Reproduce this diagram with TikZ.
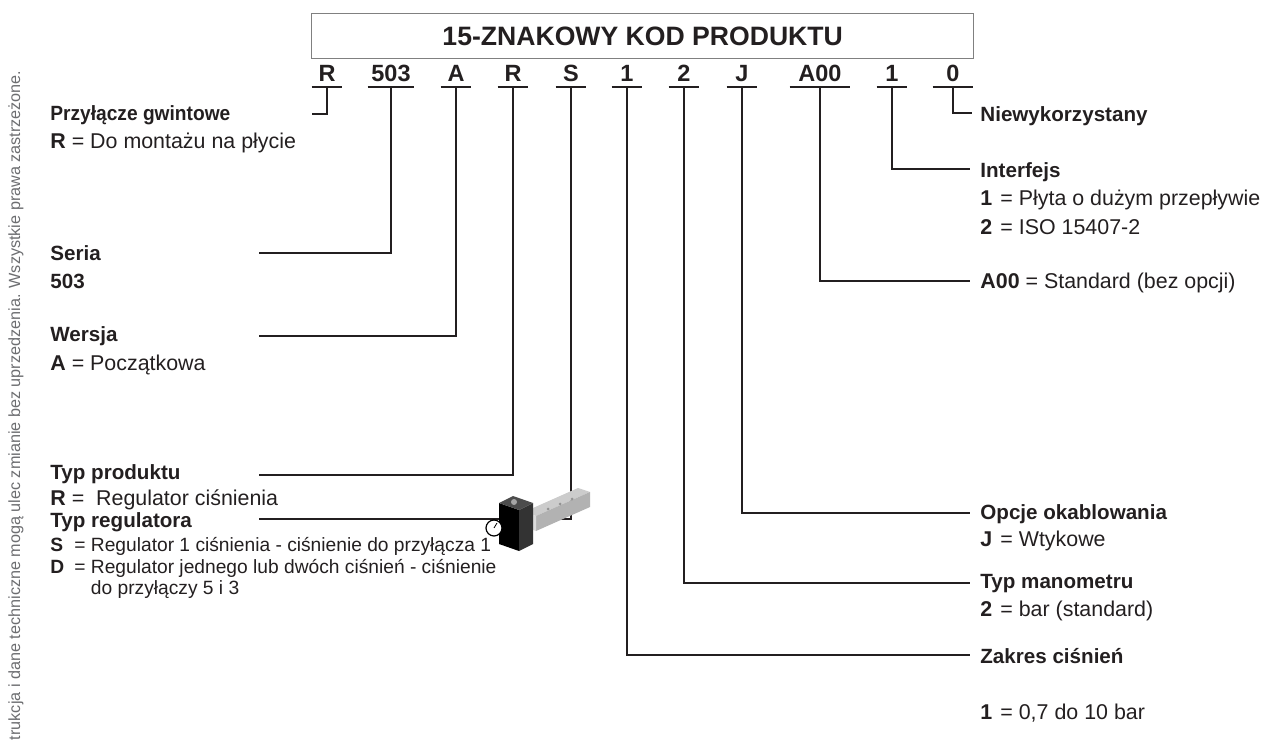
\documentclass[tikz,border=0pt]{standalone}
\usepackage{fontspec}
\setmainfont{Liberation Sans}
\usetikzlibrary{positioning}

\definecolor{ink}{HTML}{231F20}
\definecolor{frame}{HTML}{808080}
\definecolor{note}{HTML}{6D6E71}

\tikzset{
  code/.style={font=\fontsize{11.75}{14}\selectfont\bfseries, inner xsep=0pt, inner ysep=2.5pt,
    minimum width=15pt, anchor=south, text=ink, text depth=0pt},
  uline/.style={ink, line width=1.3pt},
  conn/.style={ink, line width=1pt},
  title/.style={font=\fontsize{10.3}{12}\selectfont\bfseries, anchor=west, inner sep=0pt, text=ink},
  desc/.style={font=\fontsize{10.7}{12}\selectfont, anchor=west, inner sep=0pt, text=ink},
  descs/.style={desc, font=\fontsize{9.6}{12}\selectfont},
}

\begin{document}
\begin{tikzpicture}[x=0.5pt, y=-0.5pt]
\useasboundingbox (0,0) rectangle (1275,743);

% naglowek
\node[draw=frame, line width=0.7pt, minimum width=331pt, minimum height=22.5pt, anchor=north west,
  inner sep=0pt, text=ink, font=\fontsize{13.3}{15}\selectfont\bfseries] (head) at (311,13) {15-ZNAKOWY KOD PRODUKTU};

% znaki kodu
\node[code] (cR) at (327,87) {R};
\node[code, minimum width=23pt] (c503) at (391,87) {503};
\node[code] (cA) at (456,87) {A};
\node[code] (cR2) at (513,87) {R};
\node[code] (cS) at (571,87) {S};
\node[code] (c1) at (627,87) {1};
\node[code] (c2) at (684,87) {2};
\node[code] (cJ) at (742,87) {J};
\node[code, minimum width=30pt] (cA00) at (820,87) {A00};
\node[code] (cI) at (892,87) {1};
\node[code, minimum width=20pt] (c0) at (953,87) {0};
\foreach \n in {cR,c503,cA,cR2,cS,c1,c2,cJ,cA00,cI,c0}
  \draw[uline] (\n.south west) -- (\n.south east);

% opisy po lewej
\node[title] (tPrz) at (50,115) {\scalebox{0.93}[1]{Przyłącze gwintowe}};
\node[desc] (dPrz) at (50,143) {\textbf{R} = Do montażu na płycie};
\node[title] (tSer) at (50,253) {Seria};
\node[title] (dSer) at (50,281) {503};
\node[title] (tWer) at (50,336) {Wersja};
\node[desc] (dWer) at (50,365) {\textbf{A} = Początkowa};
\node[title] (tTyp) at (50,474) {Typ produktu};
\node[desc] (dTyp) at (50,500) {\textbf{R} =\ \ Regulator ciśnienia};
\node[title] (tReg) at (50,522) {Typ regulatora};
\node[descs] (dRegS) at (50,546) {\makebox[12pt][l]{\textbf{S}}= Regulator 1 ciśnienia - ciśnienie do przyłącza 1};
\node[descs] (dRegD) at (50,568) {\makebox[12pt][l]{\textbf{D}}= Regulator jednego lub dwóch ciśnień - ciśnienie};
\node[descs] (dRegD2) at (50,590) {\makebox[12pt][l]{}\phantom{=\ }do przyłączy 5 i 3};

% opisy po prawej
\node[title] (tNie) at (980,116) {Niewykorzystany};
\node[title] (tInt) at (980,172) {Interfejs};
\node[desc] (dInt1) at (980,200) {\makebox[10pt][l]{\textbf{1}}= Płyta o dużym przepływie};
\node[desc] (dInt2) at (980,227) {\makebox[10pt][l]{\textbf{2}}= ISO 15407-2};
\node[desc] (dOpc) at (980,283) {\textbf{A00} = Standard (bez opcji)};
\node[title] (tOka) at (980,514) {Opcje okablowania};
\node[desc] (dOka) at (980,541) {\makebox[10pt][l]{\textbf{J}}= Wtykowe};
\node[title] (tMan) at (980,584) {Typ manometru};
\node[desc] (dMan) at (980,611) {\makebox[10pt][l]{\textbf{2}}= bar (standard)};
\node[title] (tZak) at (980,656) {Zakres ciśnień};
\node[desc] (dZak) at (980,713) {\makebox[10pt][l]{\textbf{1}}= 0,7 do 10 bar};

% konce linii
\coordinate (kPrz) at (312,114);
\coordinate (kSer) at (259,253);
\coordinate (kWer) at (259,336);
\coordinate (kTyp) at (259,475);
\coordinate (kReg) at (259,519);
\coordinate (kZak) at (970,655);
\coordinate (kMan) at (970,583);
\coordinate (kOka) at (970,513);
\coordinate (kOpc) at (970,281);
\coordinate (kInt) at (970,169);
\coordinate (kNie) at (972,113);

\draw[conn] (cR.south) |- (kPrz);
\draw[conn] (c503.south) |- (kSer);
\draw[conn] (cA.south) |- (kWer);
\draw[conn] (cR2.south) |- (kTyp);
\draw[conn] (cS.south) |- (kReg);
\draw[conn] (c1.south) |- (kZak);
\draw[conn] (c2.south) |- (kMan);
\draw[conn] (cJ.south) |- (kOka);
\draw[conn] (cA00.south) |- (kOpc);
\draw[conn] (cI.south) |- (kInt);
\draw[conn] (c0.south) |- (kNie);

% zawor z regulatorem
\fill[gray!40] (524,512) -- (578,488) -- (590,492) -- (536,516) -- cycle;
\fill[gray!60] (536,516) -- (590,492) -- (590,507) -- (536,531) -- cycle;
\fill[gray!28] (524,512) -- (536,516) -- (536,531) -- (524,527) -- cycle;
\foreach \i in {0,1,2} \fill[gray!85] (548+12*\i,509-5*\i) circle (1.5);
\fill[black] (499,503) -- (519,510) -- (519,551) -- (499,544) -- cycle;
\fill[black!80] (519,510) -- (533,503) -- (533,544) -- (519,551) -- cycle;
\fill[black!70] (499,503) -- (513,496) -- (533,503) -- (519,510) -- cycle;
\fill[black!35] (514,502) circle (3);
\filldraw[fill=white, draw=black, line width=0.6pt] (494,528) circle (8);
\draw[black, line width=0.4pt] (494,528) -- (497,523);

% nota boczna
\node[rotate=90, anchor=east, inner sep=0pt, text=note, font=\fontsize{8.1}{9}\selectfont] (vnote) at (16,70)
  {trukcja i dane techniczne mogą ulec zmianie bez uprzedzenia. Wszystkie prawa zastrzeżone.};
\end{tikzpicture}
\end{document}
